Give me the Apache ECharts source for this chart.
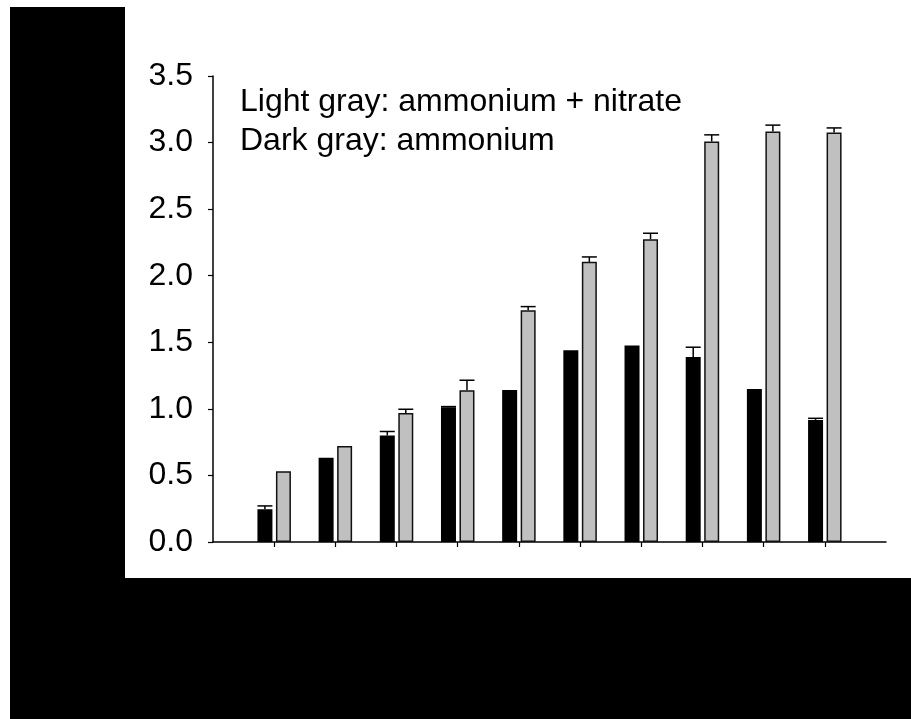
<!DOCTYPE html>
<html>
<head>
<meta charset="utf-8">
<script src="https://cdn.jsdelivr.net/npm/echarts@6/dist/echarts.min.js"></script>
<style>html,body{margin:0;padding:0;background:#fff}#c{width:911px;height:719px}</style>
</head>
<body>
<div id="c"></div>
<script>
// Data (categories are redacted in the reference; padded slots at both ends)
const categories = ['', 'c1', 'c2', 'c3', 'c4', 'c5', 'c6', 'c7', 'c8', 'c9', 'c10', ''];
const ammonium = [0.246, 0.633, 0.80, 1.012, 1.142, 1.44, 1.475, 1.39, 1.15, 0.917];
const ammoniumErr = [0.025, 0, 0.03, 0.005, 0, 0, 0, 0.073, 0, 0.012];
const ammNitrate = [0.531, 0.721, 0.969, 1.14, 1.741, 2.104, 2.274, 3.008, 3.083, 3.075];
const ammNitrateErr = [0, 0, 0.028, 0.075, 0.027, 0.037, 0.045, 0.05, 0.048, 0.035];
const yTicks = [0, 0.5, 1.0, 1.5, 2.0, 2.5, 3.0, 3.5];
const legendLines = ['Light gray: ammonium + nitrate', 'Dark gray: ammonium'];

const pad = v => [null].concat(v).concat([null]);
const BW = 15, GAP = 3.5;
const font = 'Liberation Sans, Arial, sans-serif';

function errSeries(vals, errs, dir) {
  const data = vals.map((v, i) => [i + 1, v, errs[i]]).filter(d => d[2] > 0);
  return {
    type: 'custom',
    z: 5,
    data: data,
    renderItem: function (params, api) {
      const x = api.value(0), v = api.value(1), e = api.value(2);
      const p0 = api.coord([x, v]);
      const p1 = api.coord([x, v + e]);
      const cx = p0[0] + dir * (BW + GAP) / 2;
      const st = { stroke: '#000', lineWidth: 1.5 };
      return {
        type: 'group',
        children: [
          { type: 'line', shape: { x1: cx, y1: p0[1], x2: cx, y2: p1[1] }, style: st },
          { type: 'line', shape: { x1: cx - BW / 2, y1: p1[1], x2: cx + BW / 2, y2: p1[1] }, style: st }
        ]
      };
    }
  };
}

const chart = echarts.init(document.getElementById('c'));
chart.setOption({
  backgroundColor: '#fff',
  animation: false,
  grid: { left: 213, right: 25, top: 76, bottom: 177, containLabel: false },
  xAxis: {
    type: 'category',
    data: categories,
    boundaryGap: false,
    axisLine: { lineStyle: { color: '#000', width: 1.5 } },
    axisTick: { length: 5, lineStyle: { color: '#000', width: 1.2 },
      interval: function (i) { return i > 0 && i < categories.length - 1; } },
    axisLabel: { show: false },
    splitLine: { show: false }
  },
  yAxis: {
    type: 'value',
    min: yTicks[0], max: yTicks[yTicks.length - 1], interval: 0.5,
    axisLine: { show: true, lineStyle: { color: '#000', width: 1.5 } },
    axisTick: { show: true, length: 5, lineStyle: { color: '#000', width: 1.2 } },
    axisLabel: { color: '#000', fontSize: 32, fontFamily: font, margin: 20,
      formatter: v => v.toFixed(1) },
    splitLine: { show: false }
  },
  series: [
    { type: 'bar', data: pad(ammonium), barWidth: BW, barGap: (GAP / BW * 100) + '%',
      itemStyle: { color: '#000' } },
    { type: 'bar', data: pad(ammNitrate), barWidth: BW,
      itemStyle: { color: '#c0c0c0', borderColor: '#111', borderWidth: 1.5 } },
    errSeries(ammonium, ammoniumErr, -1),
    errSeries(ammNitrate, ammNitrateErr, 1)
  ],
  graphic: [
    { type: 'text', left: 240, top: 86, z: 10,
      style: { text: legendLines[0], fontSize: 32, fontFamily: font, fill: '#000' } },
    { type: 'text', left: 240, top: 125, z: 10,
      style: { text: legendLines[1], fontSize: 32, fontFamily: font, fill: '#000' } },
    { type: 'rect', z: 100, shape: { x: 10, y: 7, width: 115, height: 712 }, style: { fill: '#000' } },
    { type: 'rect', z: 100, shape: { x: 10, y: 578, width: 901, height: 141 }, style: { fill: '#000' } }
  ]
});
</script>
</body>
</html>
